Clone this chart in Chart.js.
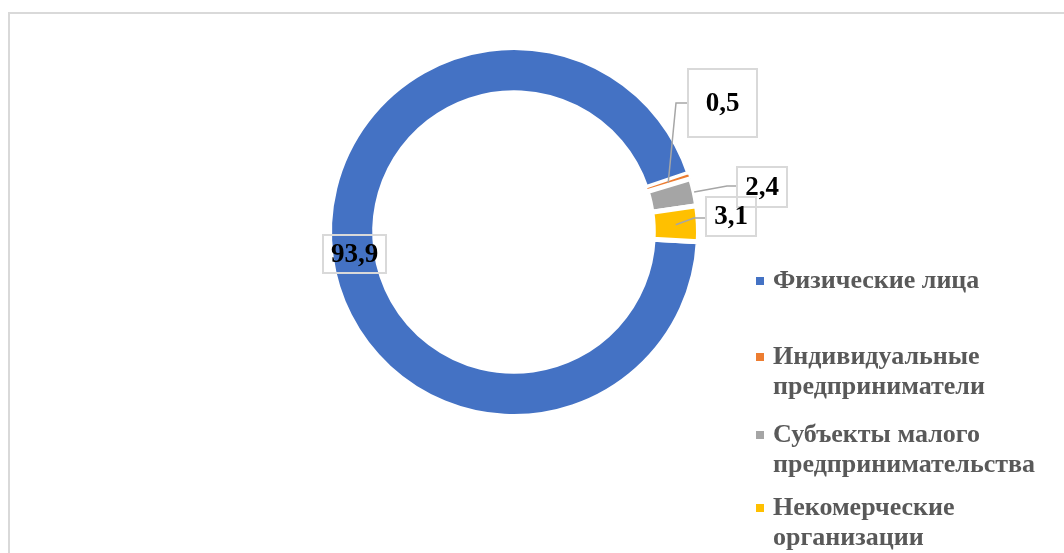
<!DOCTYPE html>
<html>
<head>
<meta charset="utf-8">
<script src="https://cdn.jsdelivr.net/npm/chart.js@4/dist/chart.umd.min.js"></script>
<style>
html, body { margin: 0; padding: 0; background: #fff; }
#wrap { position: relative; width: 1064px; height: 553px; overflow: hidden; }
#frame { position: absolute; left: 8px; top: 12px; width: 1100px; height: 600px; border: 2px solid #d9d9d9; box-sizing: border-box; }
canvas { position: absolute; left: 0; top: 0; }
</style>
</head>
<body>
<div id="wrap">
  <div id="frame"></div>
  <canvas id="chart" width="1064" height="553"></canvas>
</div>
<script>
const categories = [
    ['Физические лица'],
    ['Индивидуальные', 'предприниматели'],
    ['Субъекты малого', 'предпринимательства'],
    ['Некомерческие', 'организации']
];
const shares = [93.9, 0.5, 2.4, 3.1];
const valueLabels = ['93,9', '0,5', '2,4', '3,1'];
const colors = ['#4472C4', '#ED7D31', '#A5A5A5', '#FFC000'];

// label boxes: [x, y, w, h], leader elbow point (null = no leader), where the leader touches the ring (0 inner .. 1 outer)
const labelBoxes = [
    { box: [323, 235, 63, 38], elbow: null, ring: 0 },
    { box: [688, 69, 69, 68], elbow: [676, 103], ring: 0.5 },
    { box: [737, 167, 50, 40], elbow: [727, 186], ring: 1.0 },
    { box: [706, 197, 50, 39], elbow: [694, 218], ring: 0.5 }
];
const legendRows = [281, 357, 435, 508];

const labelPlugin = {
    id: 'labels',
    afterDraw(chart) {
        const ctx = chart.ctx;
        const arcs = chart.getDatasetMeta(0).data;
        ctx.save();
        labelBoxes.forEach((lb, i) => {
            const [bx, by, bw, bh] = lb.box;
            // leader line
            if (lb.elbow) {
                const arc = arcs[i];
                const a = (arc.startAngle + arc.endAngle) / 2;
                const r = arc.innerRadius + lb.ring * (arc.outerRadius - arc.innerRadius);
                ctx.strokeStyle = '#a6a6a6';
                ctx.lineWidth = 1.5;
                ctx.beginPath();
                ctx.moveTo(bx, lb.elbow[1]);
                ctx.lineTo(lb.elbow[0], lb.elbow[1]);
                ctx.lineTo(arc.x + Math.cos(a) * r, arc.y + Math.sin(a) * r);
                ctx.stroke();
            }
            ctx.strokeStyle = '#d9d9d9';
            ctx.lineWidth = 2;
            ctx.strokeRect(bx, by, bw, bh);
            ctx.fillStyle = '#000';
            ctx.font = 'bold 27px "Liberation Serif"';
            ctx.textAlign = 'center';
            ctx.textBaseline = 'middle';
            ctx.fillText(valueLabels[i], bx + bw / 2, by + bh / 2 + 1);
        });

        // legend
        ctx.textAlign = 'left';
        ctx.font = 'bold 26px "Liberation Serif"';
        categories.forEach((lines, i) => {
            const y = legendRows[i];
            ctx.fillStyle = colors[i];
            ctx.fillRect(756, y - 4, 8, 8);
            ctx.fillStyle = '#595959';
            lines.forEach((t, k) => ctx.fillText(t, 773, y + k * 30));
        });
        ctx.restore();
    }
};

new Chart(document.getElementById('chart'), {
    type: 'doughnut',
    data: {
        labels: categories.map(c => c.join(' ')),
        datasets: [{
            data: shares,
            backgroundColor: colors,
            borderColor: '#ffffff',
            borderWidth: [5, 2, 5, 5]
        }]
    },
    options: {
        responsive: false,
        animation: false,
        rotation: 93,
        cutout: '75.5%',
        layout: { padding: { left: 327, right: 363, top: 45, bottom: 134 } },
        plugins: {
            legend: { display: false },
            tooltip: { enabled: false }
        }
    },
    plugins: [labelPlugin]
});
</script>
</body>
</html>
